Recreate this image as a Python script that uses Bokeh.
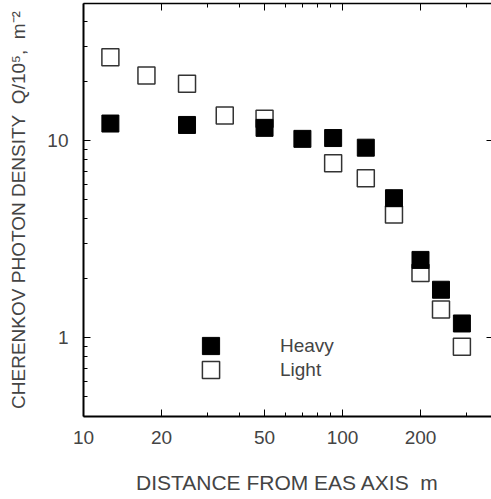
from bokeh.plotting import figure
from bokeh.models import Range1d, LogAxis, FixedTicker, Legend, LegendItem, CustomJSTickFormatter
from bokeh.embed import file_html
from bokeh.resources import INLINE

# Data (distance in m, density Q/10^5 m^-2)
heavy_r = [12.7, 25.1, 50, 70, 92, 123, 158, 200, 240, 289]
heavy_q = [12.2, 12.0, 11.6, 10.2, 10.3, 9.2, 5.1, 2.48, 1.75, 1.18]
light_r = [12.7, 17.5, 25.1, 35.1, 50, 92, 123, 158, 200, 240, 289]
light_q = [26.5, 21.4, 19.4, 13.4, 12.9, 7.67, 6.44, 4.21, 2.13, 1.39, 0.90]

x_major = [10, 20, 50, 100, 200]
x_minor = [30, 40, 60, 70, 80, 90, 300]
y_major = [1, 10]
y_minor = [0.5, 0.6, 0.7, 0.8, 0.9, 2, 3, 4, 5, 6, 7, 8, 9, 20, 30, 40]

FONT = "Liberation Sans"

p = figure(x_axis_type="log", y_axis_type="log",
           x_range=Range1d(10, 376), y_range=Range1d(0.398, 49.6),
           frame_width=408, frame_height=413,
           min_border_left=83, min_border_top=3, min_border_bottom=83, min_border_right=0,
           output_backend="svg", toolbar_location=None)
p.outline_line_color = None
p.xgrid.visible = False
p.ygrid.visible = False
p.background_fill_color = "white"
p.border_fill_color = "white"

fmt = CustomJSTickFormatter(code="return tick.toString()")

xa = p.xaxis[0]
xa.ticker = FixedTicker(ticks=x_major, minor_ticks=x_minor)
xa.formatter = fmt
xa.axis_line_width = 2
xa.major_tick_in = 7
xa.major_tick_out = 0
xa.minor_tick_in = 4
xa.minor_tick_out = 0
xa.major_label_text_font = FONT
xa.major_label_text_font_size = "19px"
xa.major_label_standoff = 14
xa.axis_label = "DISTANCE FROM EAS AXIS\u00a0\u00a0m"
xa.axis_label_text_font = FONT
xa.axis_label_text_font_size = "21px"
xa.axis_label_text_font_style = "normal"
xa.axis_label_standoff = 24

ya = p.yaxis[0]
ya.ticker = FixedTicker(ticks=y_major, minor_ticks=y_minor)
ya.formatter = fmt
ya.axis_line_width = 2
ya.major_tick_in = 7
ya.major_tick_out = 0
ya.minor_tick_in = 4
ya.minor_tick_out = 0
ya.major_label_text_font = FONT
ya.major_label_text_font_size = "19px"
ya.major_label_standoff = 15
ya.axis_label = "CHERENKOV PHOTON DENSITY\u00a0\u00a0Q/10\u2075,\u00a0\u00a0m\u207b\u00b2"
ya.axis_label_text_font = FONT
ya.axis_label_text_font_size = "19px"
ya.axis_label_text_font_style = "normal"
ya.axis_label_standoff = 15

top = LogAxis(ticker=FixedTicker(ticks=x_major, minor_ticks=x_minor),
              axis_line_width=1.5, major_tick_in=7, major_tick_out=0,
              minor_tick_in=4, minor_tick_out=0,
              major_label_text_font_size="1px", major_label_text_alpha=0,
              major_label_standoff=0)
p.add_layout(top, "above")

right = LogAxis(ticker=FixedTicker(ticks=y_major, minor_ticks=[]),
                axis_line_color=None, major_tick_in=5, major_tick_out=0,
                minor_tick_in=0, minor_tick_out=0,
                major_label_text_font_size="1px", major_label_text_alpha=0,
                major_label_standoff=0)
p.add_layout(right, "right")

r_light = p.scatter(light_r, light_q, marker="square", size=17,
                    fill_color="white", line_color="#333333", line_width=1.5)
r_heavy = p.scatter(heavy_r, heavy_q, marker="square", size=17,
                    fill_color="black", line_color="black", line_width=1)

leg_style = dict(glyph_width=43, glyph_height=43, spacing=0, padding=0, margin=0,
                 label_standoff=48, label_text_font=FONT, label_text_font_size="19px",
                 border_line_color=None, background_fill_alpha=0)
leg_heavy = Legend(items=[LegendItem(label="Heavy", renderers=[r_heavy])],
                   location=(106, 49), **leg_style)
leg_light = Legend(items=[LegendItem(label="Light", renderers=[r_light])],
                   location=(106, 25), **leg_style)
p.add_layout(leg_heavy, "center")
p.add_layout(leg_light, "center")

open("out.html", "w").write(file_html(p, INLINE))
